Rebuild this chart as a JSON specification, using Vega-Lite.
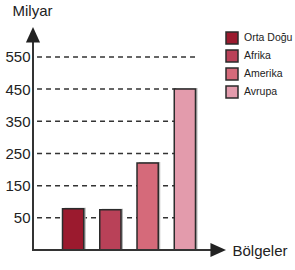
{
  "$schema": "https://vega.github.io/schema/vega-lite/v6.json",
  "autosize": "none",
  "width": 193,
  "height": 223,
  "padding": {"left": 33, "top": 27, "right": 69, "bottom": 20},
  "background": "white",
  "config": {
    "view": {"stroke": null},
    "font": "Liberation Sans",
    "axis": {"domain": false, "labelColor": "#222222", "titleColor": "#222222", "titleFont": "Liberation Sans", "labelFont": "Liberation Sans", "titleFontWeight": "normal"}
  },
  "datasets": {
    "bars": [
      {"bolge": "Orta Doğu", "milyar": 78},
      {"bolge": "Afrika", "milyar": 75},
      {"bolge": "Amerika", "milyar": 220},
      {"bolge": "Avrupa", "milyar": 450}
    ],
    "grid": [
      {"v": 50}, {"v": 150}, {"v": 250}, {"v": 350}, {"v": 450}, {"v": 550}
    ],
    "one": [{"k": 1}]
  },
  "layer": [
    {
      "data": {"name": "grid"},
      "mark": {"type": "rule", "strokeDash": [5, 4], "strokeWidth": 1.5, "color": "#333333"},
      "encoding": {
        "y": {"field": "v", "type": "quantitative", "scale": {"domain": [-50, 643], "zero": false, "nice": false},
          "axis": {"values": [50, 150, 250, 350, 450, 550], "grid": false, "ticks": false, "labelPadding": 3, "labelFontSize": 15,
            "title": "Milyar", "titleAngle": 0, "titleFontSize": 15, "titleAlign": "center", "titleBaseline": "middle", "titleX": -1, "titleY": -17}},
        "x": {"datum": "Orta Doğu", "bandPosition": -1.2},
        "x2": {"datum": "Avrupa", "bandPosition": 1}
      }
    },
    {
      "data": {"name": "bars"},
      "mark": {"type": "bar", "color": "#b3b3b3", "xOffset": 2, "yOffset": -1},
      "encoding": {
        "x": {"field": "bolge", "type": "nominal", "sort": ["Orta Doğu", "Afrika", "Amerika", "Avrupa"],
          "scale": {"range": [21.5, 170.5], "paddingInner": 0.43, "paddingOuter": 0.215},
          "axis": {"labels": false, "ticks": false, "title": "Bölgeler", "titleFontSize": 15, "titleAngle": 0, "titleAlign": "left", "titleBaseline": "middle", "titleX": 199, "titleY": 0}},
        "y": {"field": "milyar", "type": "quantitative"},
        "y2": {"datum": -50}
      }
    },
    {
      "data": {"name": "bars"},
      "mark": {"type": "bar", "stroke": "#2b2b2b", "strokeWidth": 1.5},
      "encoding": {
        "x": {"field": "bolge", "type": "nominal", "sort": ["Orta Doğu", "Afrika", "Amerika", "Avrupa"]},
        "y": {"field": "milyar", "type": "quantitative"},
        "y2": {"datum": -50},
        "fill": {"field": "bolge", "type": "nominal",
          "scale": {"domain": ["Orta Doğu", "Afrika", "Amerika", "Avrupa"], "range": ["#9b1a2e", "#b94158", "#d56a7a", "#e39bac"]},
          "legend": {"title": null, "orient": "none", "legendX": 192, "legendY": 4, "padding": 0,
            "symbolType": "square", "symbolSize": 144, "symbolStrokeColor": "#2b2b2b", "symbolStrokeWidth": 1.5,
            "labelFontSize": 10.5, "labelColor": "#222222", "labelOffset": 5, "rowPadding": 0}}
      }
    },
    {
      "data": {"name": "one"},
      "mark": {"type": "rule", "color": "#333333", "strokeWidth": 2},
      "encoding": {"x": {"value": 0}, "y": {"value": 4}, "y2": {"value": "height"}}
    },
    {
      "data": {"name": "one"},
      "mark": {"type": "rule", "color": "#333333", "strokeWidth": 2},
      "encoding": {"x": {"value": -1}, "x2": {"value": 190}, "y": {"value": "height"}}
    },
    {
      "data": {"name": "one"},
      "mark": {"type": "point", "shape": "M-1,2.2L0,0L1,2.2Z", "size": 200, "filled": true, "color": "#222222", "opacity": 1},
      "encoding": {"x": {"value": 0}, "y": {"value": 0}}
    },
    {
      "data": {"name": "one"},
      "mark": {"type": "point", "shape": "M-2.2,-1L0,0L-2.2,1Z", "size": 200, "filled": true, "color": "#222222", "opacity": 1},
      "encoding": {"x": {"value": "width"}, "y": {"value": "height"}}
    }
  ]
}
